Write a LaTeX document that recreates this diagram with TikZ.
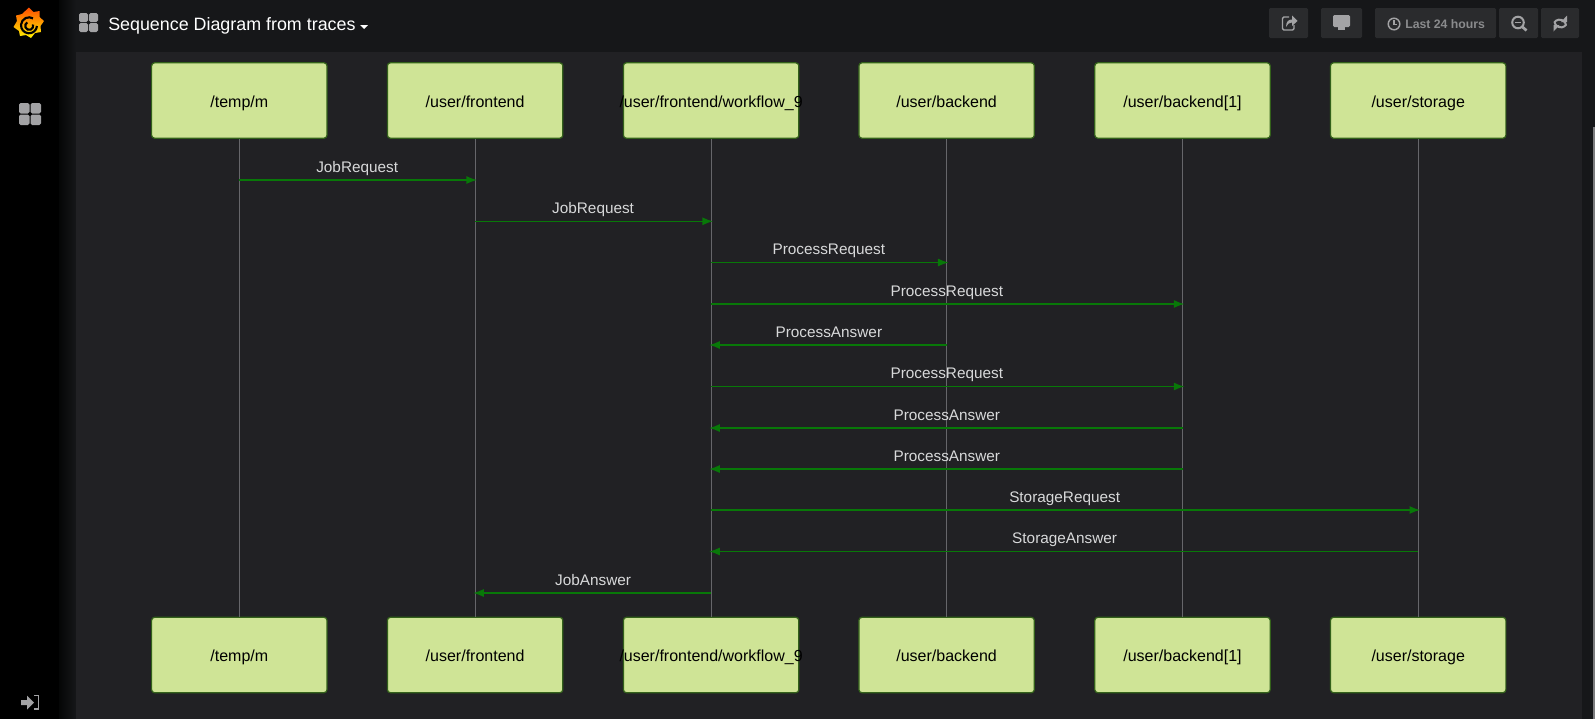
\documentclass[tikz,border=0pt]{standalone}
\usepackage{fontspec}
\setmainfont{Liberation Sans}
\usepackage{xcolor}
\definecolor{pagebg}{HTML}{161719}
\definecolor{panelbg}{HTML}{212124}
\definecolor{boxfill}{HTML}{CFE496}
\definecolor{boxedge}{HTML}{33611A}
\definecolor{msggreen}{HTML}{087808}
\definecolor{msgtext}{HTML}{D8D9DA}
\definecolor{lifegray}{HTML}{66666A}
\definecolor{iconGray}{HTML}{A3A3A5}
\definecolor{btnbg}{HTML}{2A2B2D}
\definecolor{btntext}{HTML}{8A8B8D}
\usetikzlibrary{arrows.meta}
\tikzset{
  actorbox/.style={draw=boxedge,line width=0.9pt,fill=boxfill,rounded corners=2.2pt,
    minimum width=131.5pt,minimum height=56.5pt,inner sep=0pt,text=black,
    font=\fontsize{12}{14}\selectfont},
  lifeline/.style={draw=lifegray,line width=0.75pt},
  message/.style={draw=msggreen,line width=1.1pt,shorten >=-1.5pt,-{Latex[length=8pt,width=6pt]}},
  msglabel/.style={anchor=base,text=msgtext,inner sep=0pt,yshift=5.8pt,
    font=\fontsize{11.5}{14}\selectfont},
  toolbtn/.style={fill=btnbg,inner sep=0pt,minimum height=22.5pt,rounded corners=1pt},
  gridcell/.style={fill=iconGray,rounded corners=1.2pt},
}
\begin{document}
\begin{tikzpicture}[x=0.75pt,y=-0.75pt]
  \useasboundingbox (0,0) rectangle (1595,718);

  % Page, side bar and panel
  \fill[pagebg] (-5,-5) rectangle (1600,725);
  \fill[black] (-5,-5) rectangle (59,725);
  \shade[left color=black!75!pagebg,right color=pagebg] (59,-5) rectangle (76,725);
  \fill[panelbg] (76,52) rectangle (1582,725);
  \fill[iconGray!70!panelbg] (1593,127) rectangle (1600,725);

  % Logo
  \shade[top color=orange!60!red,bottom color=yellow!90!orange]
    (29,7.5) -- (33.5,12) -- (39.5,11) -- (39.5,17) -- (44,21) -- (40.5,26) -- (41,32)
    -- (35,33) -- (31,38) -- (26,35) -- (20,36) -- (19,31) -- (13.5,27) -- (17,21)
    -- (16,15.5) -- (22,14) -- cycle;
  \draw[black,line width=1.6pt] (37,26) arc[start angle=5,end angle=300,radius=8]
    (33,24.5) arc[start angle=-20,end angle=240,radius=4];

  % Grid icons
  \foreach \xx/\yy/\cell in {79/13/9, 19/103/10.5}
  {
    \fill[gridcell] (\xx,\yy) rectangle ++(\cell,\cell);
    \fill[gridcell] (\xx+\cell+1,\yy) rectangle ++(\cell,\cell);
    \fill[gridcell] (\xx,\yy+\cell+1) rectangle ++(\cell,\cell);
    \fill[gridcell] (\xx+\cell+1,\yy+\cell+1) rectangle ++(\cell,\cell);
  }

  % Title
  \node[anchor=west,text=white,inner sep=0pt,font=\fontsize{13.4}{16}\selectfont]
    (title) at (108,25.5) {Sequence Diagram from traces};
  \fill[white] (360,25) -- (368,25) -- (364,29) -- cycle;

  % Log in icon
  \fill[iconGray] (21,700) -- (27,700) -- (27,695.5) -- (34,702.5) -- (27,709.5) -- (27,705) -- (21,705) -- cycle;
  \draw[iconGray,line width=1pt] (34,695.5) -- (38.5,695.5) -- (38.5,709) -- (34,709);

  % Tool buttons
  \foreach \name/\xx/\bw in {share/1288.5/39, monitor/1341.5/41, range/1435.5/121, unzoom/1518.5/39, reload/1560/38}
    \node[toolbtn,minimum width=\bw*0.75pt] (\name) at (\xx,23) {};
  \node[anchor=west,text=btntext,inner sep=0pt,font=\bfseries\fontsize{9.2}{11}\selectfont]
    (rangetext) at (1405,24) {Last 24 hours};

  % Share
  \draw[iconGray,line width=1pt,rounded corners=1pt] (1289,17) -- (1282.5,17) -- (1282.5,30) -- (1294,30) -- (1294,25);
  \fill[iconGray] (1286,27) .. controls (1286,21) and (1289,19.5) .. (1292,19.5) -- (1292,15.5) -- (1297.5,21) -- (1292,26) -- (1292,22.5) .. controls (1289.5,22.5) and (1287,24) .. (1286,27) -- cycle;
  % Monitor
  \fill[iconGray,rounded corners=1pt] (1333,15) rectangle (1350,27);
  \fill[iconGray] (1338,27) rectangle (1345,30);
  % Clock
  \draw[iconGray,line width=1.1pt] (1394,24) circle (5.8);
  \draw[iconGray,line width=0.9pt] (1394,20) -- (1394,24.5) -- (1397,24.5);
  % Zoom out
  \draw[iconGray,line width=1.5pt] (1518,22.5) circle (5.8);
  \draw[iconGray,line width=2pt] (1522.5,27) -- (1526.5,30.5);
  \draw[iconGray,line width=1.1pt] (1515,22.5) -- (1521,22.5);
  % Refresh
  \draw[iconGray,line width=1.5pt] (1554.5,22) arc[start angle=170,end angle=35,radius=6.5];
  \draw[iconGray,line width=1.5pt] (1566,25) arc[start angle=-10,end angle=-145,radius=6.5];
  \fill[iconGray] (1567,15.5) -- (1567,22) -- (1561,22) -- cycle;
  \fill[iconGray] (1553.5,31.5) -- (1553.5,25) -- (1559.5,25) -- cycle;

  % Top and bottom boxes
  \foreach \name/\xx/\title in {
    temp/239.3/{/temp/m}, frontend/475.1/{/user/frontend},
    workflow/711.1/{/user/frontend/workflow\_9}, backend/946.6/{/user/backend},
    backendb/1182.5/{/user/backend[1]}, storage/1418.2/{/user/storage}}
  {
    \node[actorbox] (\name) at (\xx,100.5) {\makebox[0pt]{\rule{0pt}{10pt}\smash{\title}}};
    \node[actorbox] (\name2) at (\xx,655) {\makebox[0pt]{\rule{0pt}{10pt}\smash{\title}}};
    \draw[lifeline] (\name) -- (\name2);
  }

  % Messages
  \foreach \src/\dst/\yy/\txt in {
    temp/frontend/180/JobRequest, frontend/workflow/221.3/JobRequest,
    workflow/backend/262.5/ProcessRequest, workflow/backendb/304/ProcessRequest,
    backend/workflow/345/ProcessAnswer, workflow/backendb/386.5/ProcessRequest,
    backendb/workflow/428/ProcessAnswer, backendb/workflow/469/ProcessAnswer,
    workflow/storage/510/StorageRequest, storage/workflow/551.5/StorageAnswer,
    workflow/frontend/593/JobAnswer}
  {
    \draw[message] (\src |- 0,\yy) -- node[msglabel] {\txt} (\dst |- 0,\yy);
  }
\end{tikzpicture}
\end{document}
